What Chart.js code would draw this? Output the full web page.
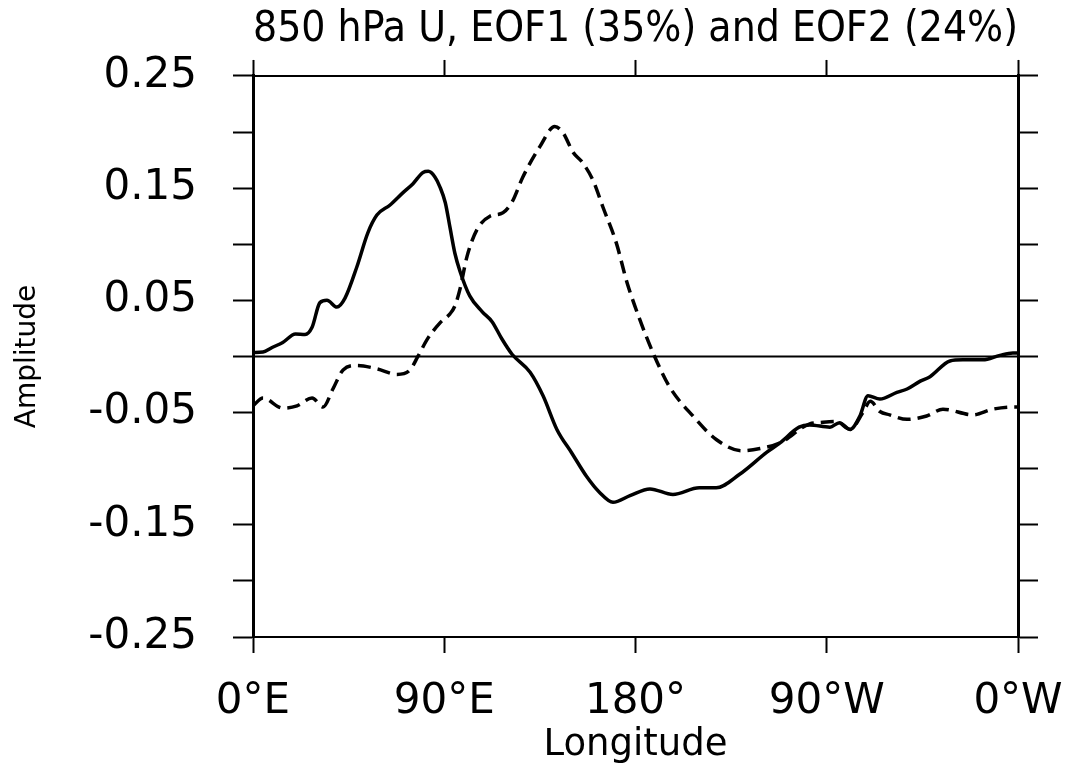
<!DOCTYPE html>
<html>
<head>
<meta charset="utf-8">
<script src="https://cdn.jsdelivr.net/npm/chart.js@4.4.1/dist/chart.umd.min.js"></script>
<style>
  html, body { margin: 0; padding: 0; background: #fff; }
  canvas { display: block; }
</style>
</head>
<body>
<canvas id="eofChart" width="1074" height="765"></canvas>
<script>
// EOF1 (solid) - longitude in degrees east, amplitude
const eof1Lon = [0, 4.7, 9, 14, 20, 24.5, 27.8, 31.5, 34.8, 39.5, 43.3, 48.9, 54, 58.3, 64.5, 70.6, 75.3, 80, 82.5, 85.6, 88, 90.5, 92.7, 95, 97.4, 102, 107.8, 112.5, 117, 121.9, 130.4, 136.5, 143, 150, 157, 163, 169.4, 177.4, 186.8, 197.6, 210, 218, 229, 242, 248, 257, 262, 271.5, 276, 281, 285.6, 289.4, 295, 303, 307.8, 314, 318.6, 328, 334, 343.5, 351.5, 357.6, 360];
const eof1Val = [0.0036, 0.004, 0.008, 0.0125, 0.020, 0.0196, 0.026, 0.048, 0.050, 0.044, 0.052, 0.080, 0.110, 0.126, 0.135, 0.146, 0.154, 0.164, 0.165, 0.160, 0.151, 0.137, 0.115, 0.092, 0.076, 0.054, 0.040, 0.031, 0.016, 0.002, -0.014, -0.035, -0.065, -0.086, -0.107, -0.121, -0.130, -0.124, -0.118, -0.123, -0.117, -0.117, -0.105, -0.085, -0.077, -0.063, -0.061, -0.063, -0.059, -0.065, -0.053, -0.035, -0.038, -0.032, -0.029, -0.022, -0.018, -0.004, -0.003, -0.003, 0.001, 0.003, 0.003];

// EOF2 (dashed)
const eof2Lon = [0, 4.7, 14, 20.7, 27.8, 33, 37.6, 42.4, 48.9, 58.3, 67.8, 73.9, 77.6, 81.9, 88, 92.7, 95, 97.4, 100.7, 105.4, 111.5, 117.6, 122, 127, 135, 142, 146, 150.6, 155, 160, 164.7, 171, 176, 182, 189, 196, 207, 218, 230, 238.6, 248, 262, 266.5, 274.5, 281, 287, 290.5, 295, 299.6, 307.8, 317, 324.7, 338.8, 348, 357.6, 360];
const eof2Val = [-0.044, -0.037, -0.046, -0.044, -0.037, -0.045, -0.029, -0.012, -0.008, -0.011, -0.016, -0.012, 0.0, 0.015, 0.030, 0.038, 0.045, 0.060, 0.089, 0.113, 0.125, 0.128, 0.138, 0.160, 0.187, 0.205, 0.199, 0.182, 0.173, 0.157, 0.133, 0.101, 0.066, 0.033, 0.0, -0.027, -0.053, -0.074, -0.084, -0.082, -0.077, -0.060, -0.059, -0.058, -0.065, -0.050, -0.040, -0.049, -0.052, -0.056, -0.053, -0.047, -0.052, -0.047, -0.045, -0.045];

// zero reference line
const zeroLon = [0, 360];
const zeroVal = [0, 0];

const xTickValues = [0, 90, 180, 270, 360];
const xTickLabels = ['0°E', '90°E', '180°', '90°W', '0°W'];

const toPoints = (xs, ys) => xs.map((x, i) => ({ x: x, y: ys[i] }));

const tickFont = { family: 'DejaVu Sans', size: 42 };
const gridX = { drawOnChartArea: false, drawTicks: true, tickLength: 16, tickWidth: 2, tickColor: '#000' };
const gridY = { drawOnChartArea: false, drawTicks: true, tickLength: 20, tickWidth: 2, tickColor: '#000' };

// fix box sizes so the plot frame lands where the reference has it
const fixHeight = h => s => { s.height = h; s.paddingLeft = 0; s.paddingRight = 0; };
const fixWidth = w => s => { s.width = w; s.paddingTop = 0; s.paddingBottom = 0; };

const ctx = document.getElementById('eofChart').getContext('2d');
new Chart(ctx, {
    type: 'line',
    data: {
        datasets: [
            {
                label: 'zero',
                data: toPoints(zeroLon, zeroVal),
                borderColor: '#000',
                borderWidth: 2,
                pointRadius: 0
            },
            {
                label: 'EOF1',
                data: toPoints(eof1Lon, eof1Val),
                borderColor: '#000',
                borderWidth: 3.5,
                pointRadius: 0,
                cubicInterpolationMode: 'monotone'
            },
            {
                label: 'EOF2',
                data: toPoints(eof2Lon, eof2Val),
                borderColor: '#000',
                borderWidth: 3.5,
                borderDash: [13, 7],
                pointRadius: 0,
                cubicInterpolationMode: 'monotone'
            }
        ]
    },
    options: {
        responsive: false,
        animation: false,
        devicePixelRatio: 1,
        layout: { padding: 0 },
        plugins: {
            legend: { display: false },
            tooltip: { enabled: false },
            title: {
                display: true,
                text: '850 hPa U, EOF1 (35%) and EOF2 (24%)',
                fullSize: false,
                color: '#000',
                font: { family: 'DejaVu Sans', size: 43, weight: 'normal', lineHeight: 1.05 },
                padding: { top: 7, bottom: 7.8 }
            }
        },
        scales: {
            x: {
                type: 'linear',
                position: 'bottom',
                min: 0,
                max: 360,
                afterBuildTicks: s => { s.ticks = xTickValues.map(v => ({ value: v })); },
                ticks: {
                    autoSkip: false,
                    maxRotation: 0,
                    padding: 24,
                    color: '#000',
                    font: tickFont,
                    callback: v => {
                        const i = xTickValues.indexOf(v);
                        return i >= 0 ? xTickLabels[i] : '';
                    }
                },
                grid: gridX,
                border: { display: true, width: 2, color: '#000' },
                title: {
                    display: true,
                    text: 'Longitude',
                    color: '#000',
                    font: { family: 'DejaVu Sans', size: 37, lineHeight: 1 },
                    padding: { top: 0, bottom: 1 }
                },
                afterFit: fixHeight(128)
            },
            x2: {
                type: 'linear',
                position: 'top',
                min: 0,
                max: 360,
                afterBuildTicks: s => { s.ticks = xTickValues.map(v => ({ value: v })); },
                ticks: { callback: () => '' },
                grid: gridX,
                border: { display: true, width: 2, color: '#000' },
                afterFit: fixHeight(16)
            },
            y: {
                type: 'linear',
                position: 'left',
                min: -0.25,
                max: 0.25,
                ticks: {
                    stepSize: 0.05,
                    padding: 36,
                    color: '#000',
                    font: tickFont,
                    callback: v => {
                        const n = Math.round(v * 100);
                        return Math.abs(n) % 10 === 5 ? v.toFixed(2) : '';
                    }
                },
                grid: gridY,
                border: { display: true, width: 3, color: '#000' },
                title: {
                    display: true,
                    text: 'Amplitude',
                    color: '#000',
                    font: { family: 'DejaVu Sans', size: 28, lineHeight: 1.2 },
                    padding: { top: 11, bottom: 0 }
                },
                afterFit: fixWidth(253)
            },
            y2: {
                type: 'linear',
                position: 'right',
                min: -0.25,
                max: 0.25,
                ticks: { stepSize: 0.05, callback: () => '' },
                grid: gridY,
                border: { display: true, width: 3, color: '#000' },
                afterFit: fixWidth(56)
            }
        }
    }
});
</script>
</body>
</html>
